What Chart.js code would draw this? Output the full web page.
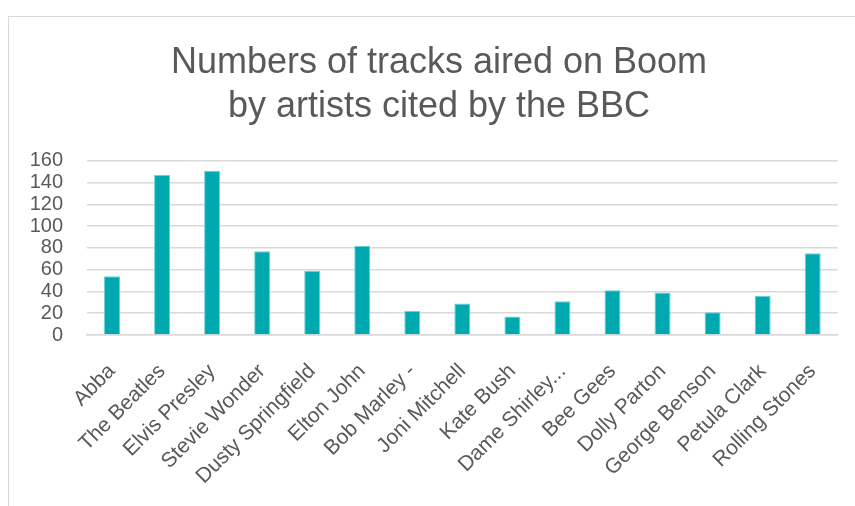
<!DOCTYPE html>
<html>
<head>
<meta charset="utf-8">
<script src="https://cdn.jsdelivr.net/npm/chart.js@4.4.1/dist/chart.umd.min.js"></script>
<style>
  html, body { margin: 0; padding: 0; background: #fff; overflow: hidden; }
  #frame {
    position: absolute; left: 8px; top: 16px; width: 900px; height: 520px;
    border: 1px solid #d9d9d9; box-sizing: border-box;
  }
  #chart { position: absolute; left: 0; top: 0; }
</style>
</head>
<body>
<div id="frame"></div>
<canvas id="chart" width="855" height="506"></canvas>
<script>
// chart data
const chartTitle = ["Numbers of tracks aired on Boom", "by artists cited by the BBC"];
const artists = [
    "Abba", "The Beatles", "Elvis Presley", "Stevie Wonder", "Dusty Springfield",
    "Elton John", "Bob Marley -", "Joni Mitchell", "Kate Bush", "Dame Shirley...",
    "Bee Gees", "Dolly Parton", "George Benson", "Petula Clark", "Rolling Stones"
];
const trackCounts = [54, 147, 151, 77, 59, 82, 22, 29, 17, 31, 41, 39, 21, 36, 75];
const yTicks = { min: 0, max: 160, step: 20 };

const textGrey = "#595959";
const gridGrey = "#d9d9d9";
const fontFamily = "'Liberation Sans', Arial, sans-serif";

const ctx = document.getElementById("chart").getContext("2d");
new Chart(ctx, {
    type: "bar",
    data: {
        labels: artists,
        datasets: [{
            label: "Tracks",
            data: trackCounts,
            backgroundColor: "#00a9af",
            borderColor: "#6fd0d3",
            borderWidth: 1,
            borderSkipped: "bottom",
            barPercentage: 0.32,
            categoryPercentage: 1.0
        }]
    },
    options: {
        responsive: false,
        animation: false,
        // left padding keeps the title centred like the original frame
        layout: { padding: { left: 23, right: 0, top: 0, bottom: 0 } },
        plugins: {
            legend: { display: false },
            tooltip: { enabled: false },
            title: {
                display: true,
                text: chartTitle,
                color: textGrey,
                font: { family: fontFamily, size: 36, weight: "normal", lineHeight: 1.22 },
                padding: { top: 41, bottom: 32 }
            }
        },
        scales: {
            x: {
                grid: { display: false, drawTicks: false },
                border: { display: true, color: gridGrey, width: 1.5 },
                ticks: {
                    color: textGrey,
                    font: { family: fontFamily, size: 21 },
                    maxRotation: 45,
                    minRotation: 45,
                    autoSkip: false,
                    padding: 24
                },
                afterFit: (scale) => { scale.height = 171; }
            },
            y: {
                min: yTicks.min,
                max: yTicks.max,
                grid: { color: gridGrey, lineWidth: 1.5, drawTicks: false },
                border: { display: false },
                ticks: {
                    stepSize: yTicks.step,
                    autoSkip: false,
                    color: textGrey,
                    font: { family: fontFamily, size: 20 },
                    padding: 24
                },
                afterFit: (scale) => { scale.width = 64; }
            },
            // empty right axis, only reserves the right margin
            yRight: {
                position: "right",
                grid: { display: false, drawTicks: false },
                border: { display: false },
                ticks: { display: false },
                afterFit: (scale) => { scale.width = 15; }
            }
        }
    }
});
</script>
</body>
</html>
